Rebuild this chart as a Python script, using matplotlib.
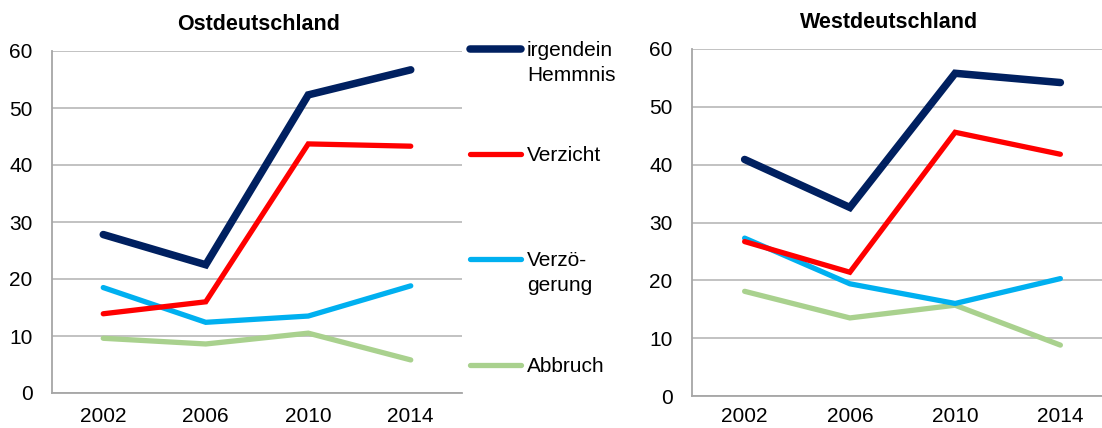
import matplotlib
matplotlib.use("Agg")
import matplotlib.pyplot as plt
from matplotlib.lines import Line2D

plt.rcParams['font.family'] = ['Liberation Sans', 'DejaVu Sans']

years = ["2002", "2006", "2010", "2014"]
series_labels = ["irgendein\nHemmnis", "Verzicht", "Verzö-\ngerung", "Abbruch"]
colors = ["#002060", "#FF0000", "#00B0F0", "#A9D18E"]
widths = [5.4, 3.8, 3.8, 3.8]

ost_hemmnis = [27.8, 22.5, 52.3, 56.7]
ost_verzicht = [13.9, 16.0, 43.7, 43.3]
ost_verzoegerung = [18.5, 12.4, 13.5, 18.8]
ost_abbruch = [9.6, 8.6, 10.5, 5.8]

west_hemmnis = [40.9, 32.6, 55.8, 54.2]
west_verzicht = [26.7, 21.4, 45.6, 41.8]
west_verzoegerung = [27.3, 19.4, 16.0, 20.3]
west_abbruch = [18.1, 13.5, 15.7, 8.8]

titles = ["Ostdeutschland", "Westdeutschland"]
yticks = [0, 10, 20, 30, 40, 50, 60]

W, H = 1102, 428
fig = plt.figure(figsize=(W / 100, H / 100), dpi=100)

def px_rect(left, top, right, bottom):
    return [left / W, 1 - bottom / H, (right - left) / W, (bottom - top) / H]

ax1 = fig.add_axes(px_rect(52, 51, 462, 393))
ax2 = fig.add_axes(px_rect(692, 49, 1113, 396))

datasets = [
    [ost_hemmnis, ost_verzicht, ost_verzoegerung, ost_abbruch],
    [west_hemmnis, west_verzicht, west_verzoegerung, west_abbruch],
]

for ax, data, xpad in zip([ax1, ax2], datasets, [10, 8]):
    x = list(range(len(years)))
    for vals, c, lw in zip(data[::-1], colors[::-1], widths[::-1]):
        ax.plot(x, vals, color=c, lw=lw, solid_capstyle='round', solid_joinstyle='miter', zorder=3)
    ax.set_xlim(-0.5, len(years) - 0.5)
    ax.set_ylim(0, 60)
    ax.set_yticks(yticks)
    ax.set_xticks(x)
    ax.set_xticklabels(years)
    ax.grid(axis='y', color='#BDBDBD', lw=1.3, zorder=0)
    for s in ['top', 'right']:
        ax.spines[s].set_visible(False)
    for s in ['left', 'bottom']:
        ax.spines[s].set_color('#A6A6A6')
        ax.spines[s].set_linewidth(1.3)
    ax.tick_params(axis='both', length=0, labelsize=15, colors='black')
    ax.tick_params(axis='y', pad=14)
    ax.tick_params(axis='x', pad=xpad)
    ax.set_axisbelow(True)

# titles
fig.text(259 / W, 1 - 24 / H, titles[0], ha='center', va='center', fontsize=15.5, fontweight='bold')
fig.text(889 / W, 1 - 22 / H, titles[1], ha='center', va='center', fontsize=15.5, fontweight='bold')

# manual legend
legend_y = [49, 154, 259, 365]
for lab, c, lw, ly in zip(series_labels, colors, widths, legend_y):
    fig.add_artist(Line2D([470 / W, 521 / W], [1 - ly / H, 1 - ly / H], color=c, lw=lw,
                          solid_capstyle='round', transform=fig.transFigure))
    for i, part in enumerate(lab.split("\n")):
        fig.text(527 / W, 1 - (ly + 7 + i * 25) / H, part, ha='left', va='baseline', fontsize=15)

fig.savefig("out.png", dpi=100)
